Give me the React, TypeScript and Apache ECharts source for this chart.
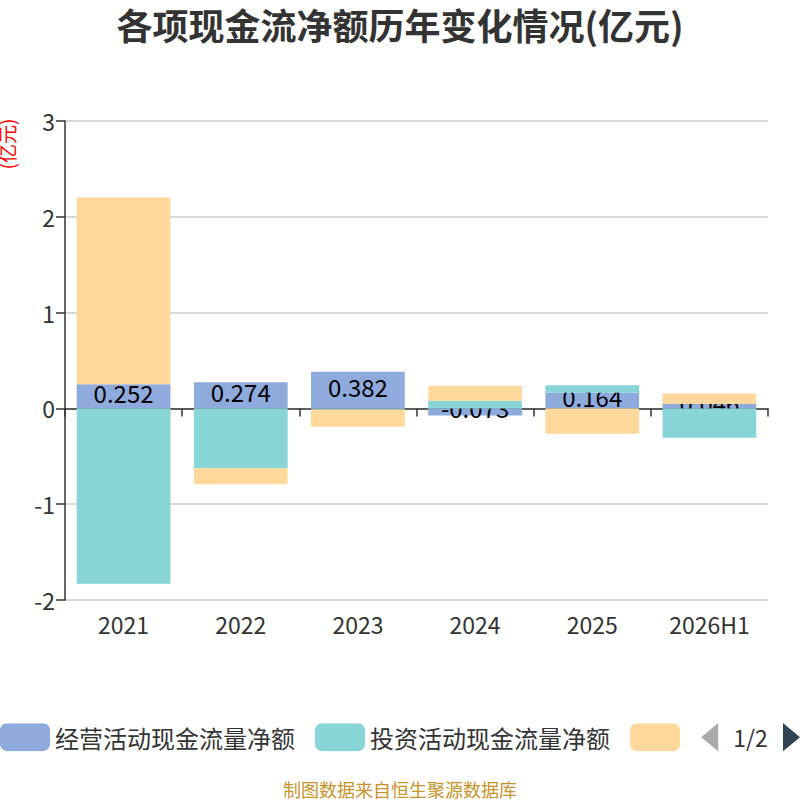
import { useEffect, useRef } from 'react';
import * as echarts from 'echarts';

const categories = ['2021', '2022', '2023', '2024', '2025', '2026H1'];
const seriesNames = ['经营活动现金流量净额', '投资活动现金流量净额', '筹资活动现金流量净额'];
const operating = [0.252, 0.274, 0.382, -0.073, 0.164, 0.046];
const investing = [-1.83, -0.626, -0.012, 0.08, 0.077, -0.306];
const financing = [1.95, -0.167, -0.18, 0.157, -0.265, 0.11];
const colors = ['#8faadc', '#88d5d8', '#fed99b'];

const FONT = '"Noto Sans CJK SC", "Noto Sans", sans-serif';

export default function App() {
  const chartRef = useRef<HTMLDivElement>(null);

  useEffect(() => {
    document.body.style.margin = '0';
    if (!chartRef.current) return;
    const chart = echarts.init(chartRef.current, null, { renderer: 'svg' });

    const barBase = {
      type: 'bar' as const,
      stack: 'total',
      barWidth: '80%',
      xAxisIndex: 0,
    };

    chart.setOption({
      animation: false,
      color: colors,
      textStyle: { fontFamily: FONT },
      title: {
        text: '各项现金流净额历年变化情况(亿元)',
        left: 'center',
        top: 1,
        textStyle: { fontSize: 36, fontWeight: 'bold', color: '#333', fontFamily: FONT },
      },
      grid: { left: 65, right: 32, top: 121, bottom: 200 },
      legend: {
        type: 'scroll',
        left: 0,
        right: 0,
        top: 718,
        padding: [5, 0],
        itemWidth: 50,
        itemHeight: 28,
        itemGap: 20,
        icon: 'roundRect',
        textStyle: { fontSize: 24, color: '#333', fontFamily: FONT },
        pageIconSize: [17, 30],
        pageIconColor: '#2f4554',
        pageIconInactiveColor: '#aaa',
        pageTextStyle: { fontSize: 23, color: '#333', fontFamily: FONT },
        data: seriesNames,
      },
      xAxis: [
        {
          type: 'category',
          data: categories,
          axisLine: { onZero: true, lineStyle: { color: '#333', width: 1.5 } },
          axisTick: { show: true, length: 8, lineStyle: { color: '#333', width: 1.5 } },
          axisLabel: { show: false },
        },
        {
          type: 'category',
          data: categories,
          position: 'bottom',
          axisLine: { show: false },
          axisTick: { show: false },
          axisLabel: { fontSize: 23, color: '#333', margin: 12, fontFamily: FONT },
        },
      ],
      yAxis: {
        type: 'value',
        min: -2,
        max: 3,
        interval: 1,
        axisLine: { show: true, lineStyle: { color: '#333', width: 1.5 } },
        axisTick: { show: true, length: 9, lineStyle: { color: '#333', width: 1.5 } },
        axisLabel: { fontSize: 23, color: '#333', margin: 10, fontFamily: FONT },
        splitLine: { lineStyle: { color: '#ccc', width: 1.5 } },
      },
      graphic: [
        {
          type: 'text',
          x: 6,
          y: 144,
          rotation: Math.PI / 2,
          style: {
            text: '(亿元)',
            fill: '#ff0000',
            fontSize: 19,
            fontFamily: FONT,
            align: 'center',
            verticalAlign: 'middle',
          },
        },
        {
          type: 'text',
          x: 400,
          y: 789,
          style: {
            text: '制图数据来自恒生聚源数据库',
            fill: '#c8932a',
            fontSize: 18,
            fontFamily: FONT,
            align: 'center',
            verticalAlign: 'middle',
          },
        },
      ],
      series: [
        {
          ...barBase,
          name: seriesNames[0],
          z: 2,
          data: operating,
          label: {
            show: true,
            position: 'inside',
            offset: [0, -4],
            color: '#000',
            fontSize: 24,
            fontFamily: FONT,
          },
        },
        { ...barBase, name: seriesNames[1], z: 3, data: investing },
        { ...barBase, name: seriesNames[2], z: 3, data: financing },
      ],
    });

    return () => chart.dispose();
  }, []);

  return <div ref={chartRef} style={{ width: 800, height: 800 }} />;
}
